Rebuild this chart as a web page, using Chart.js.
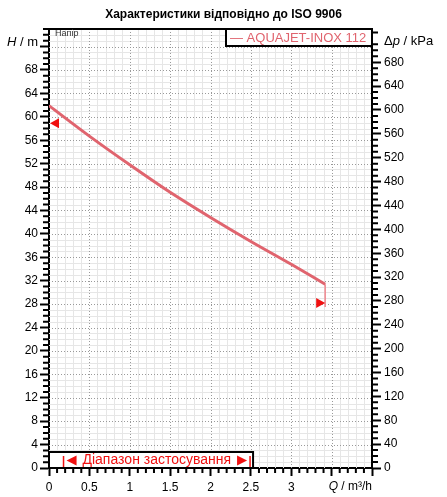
<!DOCTYPE html>
<html>
<head>
<meta charset="utf-8">
<script src="https://cdn.jsdelivr.net/npm/chart.js@4.4.0/dist/chart.umd.min.js"></script>
<style>
html, body { margin:0; padding:0; background:#fff; overflow:hidden; }
#wrap { width:447px; height:497px; position:relative; }
</style>
</head>
<body>
<div id="wrap"><canvas id="pump"></canvas></div>
<script>
// pump curve, Q in m3/h, H in m
const flow = [0, 0.5, 1.0, 1.5, 2.0, 2.5, 3.0, 3.42];
const head = [61.9, 56.7, 51.8, 47.1, 42.8, 38.7, 34.8, 31.4];
// short vertical drop at the end of the curve
const endFlow = [3.42, 3.42];
const endHead = [31.4, 27.5];
// red markers on the axis / curve end
const markerLeftHead = 58.9;
const markerRightFlow = 3.42;
const markerRightHead = 28.2;
// application range (Діапазон застосування)
const rangeFlow = [0.18, 2.49];

const headMax = 75;
const kpaPerM = 9.81;
const seriesName = 'AQUAJET-INOX 112';
const titleText = 'Характеристики відповідно до ISO 9906';

const FONT = '"Liberation Sans", Arial, sans-serif';
const curveColor = '#e0646e';
const red = '#f01010';

function toPoints(xs, ys) {
	return xs.map((q, i) => ({ x: q, y: ys[i] }));
}

function line(ctx, x1, y1, x2, y2) {
	ctx.moveTo(x1, y1);
	ctx.lineTo(x2, y2);
}

const extras = {
	id: 'extras',
	beforeDatasetsDraw(chart) {
		const ctx = chart.ctx, a = chart.chartArea;
		const x = chart.scales.x, y = chart.scales.y;
		ctx.save();
		ctx.lineWidth = 1;
		// light minor grid
		ctx.strokeStyle = '#e6e6e6';
		ctx.beginPath();
		for (let i = 1; i < 40; i++) {
			if (i % 5 === 0) continue;
			const px = Math.round(x.getPixelForValue(i / 10)) + 0.5;
			line(ctx, px, a.top, px, a.bottom);
		}
		for (let i = 1; i < headMax; i++) {
			if (i % 4 === 0) continue;
			const py = Math.round(y.getPixelForValue(i)) + 0.5;
			line(ctx, a.left, py, a.right, py);
		}
		ctx.stroke();
		// dotted major grid
		ctx.strokeStyle = '#9a9a9a';
		ctx.setLineDash([1, 2]);
		ctx.beginPath();
		for (let i = 1; i < 8; i++) {
			const px = Math.round(x.getPixelForValue(i / 2)) + 0.5;
			line(ctx, px, a.top, px, a.bottom);
		}
		for (let v = 4; v < headMax; v += 4) {
			const py = Math.round(y.getPixelForValue(v)) + 0.5;
			line(ctx, a.left, py, a.right, py);
		}
		ctx.stroke();
		ctx.restore();
	},
	afterDatasetsDraw(chart) {
		const ctx = chart.ctx, a = chart.chartArea;
		const x = chart.scales.x, y = chart.scales.y, y2 = chart.scales.y2;
		ctx.save();

		// frame top + right
		ctx.strokeStyle = '#000';
		ctx.lineWidth = 2;
		ctx.beginPath();
		line(ctx, a.left - 1, a.top, a.right + 1, a.top);
		line(ctx, a.right, a.top, a.right, a.bottom);
		ctx.stroke();

		// short minor ticks
		ctx.beginPath();
		for (let i = 0; i <= headMax; i++) {
			if (i % 4 === 0) continue;
			const py = y.getPixelForValue(i);
			line(ctx, a.left - 6, py, a.left, py);
		}
		for (let k = 10; k < headMax * kpaPerM; k += 10) {
			if (k % 40 === 0) continue;
			const py = y2.getPixelForValue(k);
			line(ctx, a.right, py, a.right + 6, py);
		}
		for (let i = 1; i < 40; i++) {
			if (i % 5 === 0) continue;
			const px = x.getPixelForValue(i / 10);
			line(ctx, px, a.bottom, px, a.bottom + 5);
		}
		ctx.stroke();

		// red triangles
		ctx.fillStyle = red;
		let ty = y.getPixelForValue(markerLeftHead);
		ctx.beginPath();
		ctx.moveTo(a.left + 1, ty);
		ctx.lineTo(a.left + 10, ty - 5);
		ctx.lineTo(a.left + 10, ty + 5);
		ctx.closePath();
		ctx.fill();
		let tx = x.getPixelForValue(markerRightFlow);
		ty = y.getPixelForValue(markerRightHead);
		ctx.beginPath();
		ctx.moveTo(tx, ty);
		ctx.lineTo(tx - 9, ty - 5);
		ctx.lineTo(tx - 9, ty + 5);
		ctx.closePath();
		ctx.fill();

		// legend box
		const lw = 146, lh = 17;
		ctx.fillStyle = '#fff';
		ctx.fillRect(a.right - lw, a.top, lw, lh);
		ctx.strokeStyle = '#000';
		ctx.lineWidth = 2;
		ctx.strokeRect(a.right - lw, a.top, lw, lh);
		ctx.fillStyle = curveColor;
		ctx.font = '13px ' + FONT;
		ctx.textAlign = 'left';
		ctx.textBaseline = 'middle';
		ctx.fillText('— ' + seriesName, a.right - lw + 4, a.top + 9);

		// application range box
		const r0 = x.getPixelForValue(rangeFlow[0]);
		const r1 = x.getPixelForValue(rangeFlow[1]);
		const bTop = a.bottom - 16;
		ctx.fillStyle = '#fff';
		ctx.fillRect(a.left, bTop, r1 + 3 - a.left, 16);
		ctx.strokeStyle = '#000';
		ctx.strokeRect(a.left, bTop, r1 + 3 - a.left, 16);
		ctx.strokeStyle = red;
		ctx.lineWidth = 1.5;
		ctx.beginPath();
		line(ctx, r0, bTop + 4, r0, a.bottom - 1);
		line(ctx, r1, bTop + 4, r1, a.bottom - 1);
		ctx.stroke();
		const cy = bTop + 8.5;
		ctx.fillStyle = red;
		ctx.beginPath();
		ctx.moveTo(r0 + 3, cy);
		ctx.lineTo(r0 + 13, cy - 5);
		ctx.lineTo(r0 + 13, cy + 5);
		ctx.closePath();
		ctx.fill();
		ctx.beginPath();
		ctx.moveTo(r1 - 3, cy);
		ctx.lineTo(r1 - 13, cy - 5);
		ctx.lineTo(r1 - 13, cy + 5);
		ctx.closePath();
		ctx.fill();
		ctx.font = '14px ' + FONT;
		ctx.textAlign = 'center';
		ctx.fillText('Діапазон застосування', (r0 + r1) / 2, cy);

		// small label in corner
		ctx.fillStyle = '#333';
		ctx.font = '9px ' + FONT;
		ctx.textAlign = 'left';
		ctx.fillText('Напір', a.left + 6, a.top + 5);

		// title
		ctx.fillStyle = '#000';
		ctx.font = 'bold 12px ' + FONT;
		ctx.textAlign = 'center';
		ctx.fillText(titleText, 223.5, 15);

		// axis titles: H / m (left), Δp / kPa (right), Q / m³/h (bottom)
		const it = 'italic 13px ' + FONT, nf = '13px ' + FONT;
		ctx.textAlign = 'left';
		ctx.font = nf;
		const hRest = ' / m';
		const wRest = ctx.measureText(hRest).width;
		ctx.font = it;
		const wH = ctx.measureText('H').width;
		const hy = y.getPixelForValue(72) - 4;
		const hx = a.left - 11 - wRest - wH;
		ctx.fillText('H', hx, hy);
		ctx.font = nf;
		ctx.fillText(hRest, hx + wH, hy);

		const py = y2.getPixelForValue(720) + 3;
		let px = a.right + 12;
		ctx.fillText('Δ', px, py);
		px += ctx.measureText('Δ').width;
		ctx.font = it;
		ctx.fillText('p', px, py);
		px += ctx.measureText('p').width;
		ctx.font = nf;
		ctx.fillText(' / kPa', px, py);

		ctx.font = '12px ' + FONT;
		const qRest = ' / m³/h';
		const wq = ctx.measureText(qRest).width;
		ctx.font = 'italic 12px ' + FONT;
		const wQ = ctx.measureText('Q').width;
		const qy = a.bottom + 19;
		const qx = a.right - wq - wQ;
		ctx.fillText('Q', qx, qy);
		ctx.font = '12px ' + FONT;
		ctx.fillText(qRest, qx + wQ, qy);

		ctx.restore();
	}
};

const tickFont = { family: FONT, size: 12 };

const config = {
	type: 'line',
	data: {
		datasets: [{
			label: seriesName,
			data: toPoints(flow, head),
			borderColor: curveColor,
			borderWidth: 3,
			pointRadius: 0,
			cubicInterpolationMode: 'monotone',
			xAxisID: 'x',
			yAxisID: 'y'
		}, {
			label: 'end',
			data: toPoints(endFlow, endHead),
			borderColor: '#f08890',
			borderWidth: 1.5,
			pointRadius: 0,
			xAxisID: 'x',
			yAxisID: 'y'
		}]
	},
	options: {
		responsive: true,
		maintainAspectRatio: false,
		animation: false,
		layout: { padding: { top: 29, left: 0, right: 0, bottom: 0 } },
		plugins: {
			legend: { display: false },
			tooltip: { enabled: false },
			title: { display: false }
		},
		scales: {
			x: {
				type: 'linear',
				position: 'bottom',
				min: 0,
				max: 4,
				ticks: {
					stepSize: 0.5,
					autoSkip: false,
					maxRotation: 0,
					padding: 4,
					color: '#000',
					font: tickFont,
					callback: v => v <= 3 ? String(v) : ''
				},
				grid: { drawOnChartArea: false, tickLength: 8, tickWidth: 2, tickColor: '#000' },
				border: { color: '#000', width: 2 },
				afterFit: s => { s.height = 29; }
			},
			y: {
				type: 'linear',
				position: 'left',
				min: 0,
				max: headMax,
				ticks: {
					stepSize: 4,
					autoSkip: false,
					padding: 2,
					color: '#000',
					font: tickFont,
					callback: v => (v % 4 === 0 && v <= 68) ? String(v) : ''
				},
				grid: {
					drawOnChartArea: false,
					tickLength: 9,
					tickWidth: 2,
					tickColor: c => (c.tick && c.tick.value % 4 === 0) ? '#000' : 'rgba(0,0,0,0)'
				},
				border: { color: '#000', width: 2 },
				afterFit: s => { s.width = 49; }
			},
			y2: {
				type: 'linear',
				position: 'right',
				min: 0,
				max: headMax * kpaPerM,
				ticks: {
					stepSize: 40,
					autoSkip: false,
					padding: 3,
					color: '#000',
					font: tickFont,
					callback: v => (v % 40 === 0 && v <= 680) ? String(v) : ''
				},
				grid: {
					drawOnChartArea: false,
					tickLength: 9,
					tickWidth: 2,
					tickColor: c => (c.tick && c.tick.value % 40 === 0) ? '#000' : 'rgba(0,0,0,0)'
				},
				border: { color: '#000', width: 2 },
				afterFit: s => { s.width = 75; }
			}
		}
	},
	plugins: [extras]
};

new Chart(document.getElementById('pump'), config);
</script>
</body>
</html>
